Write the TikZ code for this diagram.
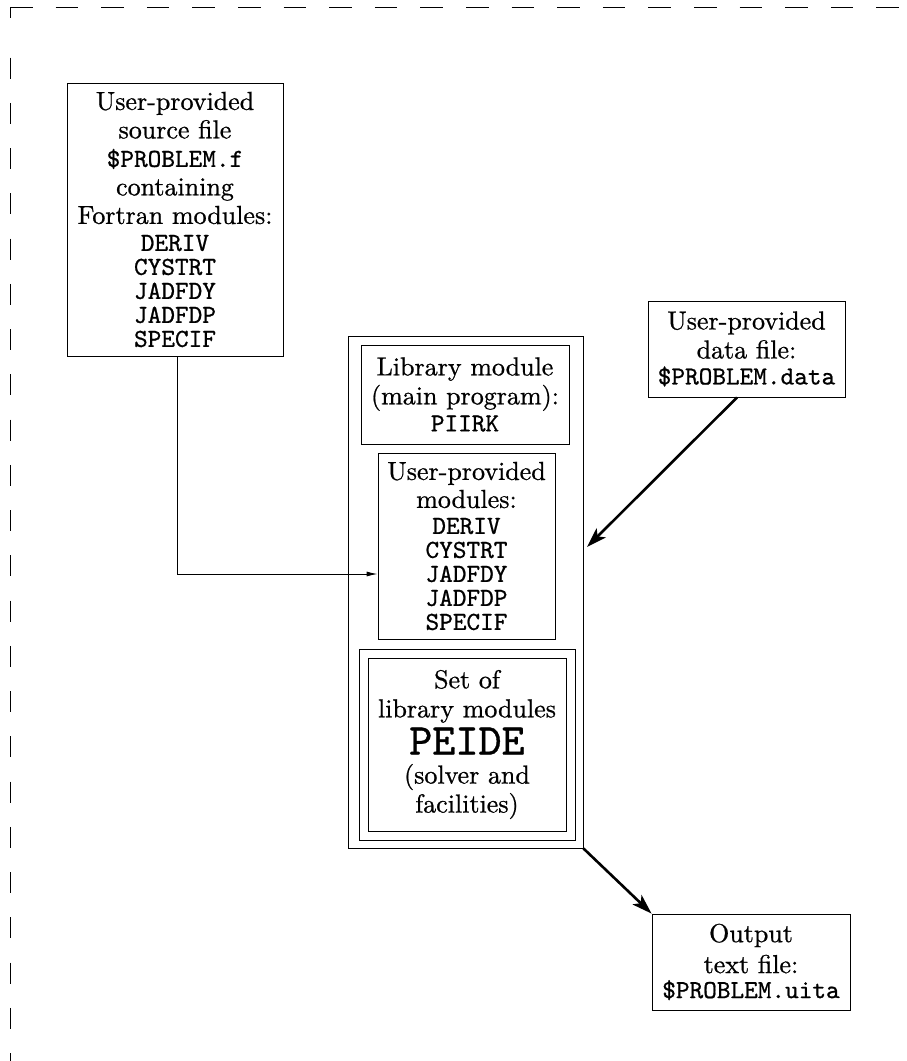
\documentclass[tikz,border=0pt]{standalone}
\usepackage{fontspec}
\setmainfont{lmroman10-regular}[Extension=.otf, UprightFeatures={FakeBold=0.8}]
\setmonofont{lmmono10-regular}[Extension=.otf, UprightFeatures={FakeBold=0.8}]
\usetikzlibrary{arrows.meta}
\begin{document}
\begin{tikzpicture}[x=1pt,y=-1pt,
  box/.style={draw, line width=0.9pt, inner sep=0pt, align=center, font=\fontsize{26}{29}\selectfont},
  thickarrow/.style={line width=2.6pt, -{Stealth[length=20pt,width=13pt,inset=5pt]}},
  thinarrow/.style={line width=0.9pt, -{Latex[length=11pt,width=5pt]}},
  frame/.style={line width=1pt}]
\useasboundingbox (0,0) rectangle (906,1061);
% partial dashed frame
\draw[frame, dash pattern=on 22.5pt off 23.1pt] (10,7) -- (906,7);
\draw[frame] (10,7) -- (10,18);
\draw[frame, dash pattern=on 21pt off 24.25pt] (10,57.6) -- (10,1061);
% boxes
\node[box, font=\fontsize{26}{28.5}\selectfont, minimum width=216, minimum height=273] (src) at (175,219.5)
  {User-provided\\ source file\\ \texttt{\$PROBLEM.f}\\ containing\\ Fortran modules:\\[-1.5pt]
   \texttt{DERIV}\\[-4.5pt] \texttt{CYSTRT}\\[-4.5pt] \texttt{JADFDY}\\[-4.5pt] \texttt{JADFDP}\\[-4.5pt] \texttt{SPECIF}};
\node[box, minimum width=235, minimum height=512] (outer) at (465.5,592) {};
\node[box, minimum width=208, minimum height=99] (lib) at (465,394.5)
  {Library module\\ (main program):\\[-2pt] \texttt{PIIRK}};
\node[box, minimum width=177, minimum height=186] (umod) at (466.5,546)
  {User-provided\\[-1pt] modules:\\[-3pt]
   \texttt{DERIV}\\[-5pt] \texttt{CYSTRT}\\[-5pt] \texttt{JADFDY}\\[-5pt] \texttt{JADFDP}\\[-5pt] \texttt{SPECIF}};
\node[box, minimum width=216, minimum height=191] (peideo) at (467,744.5) {};
\node[box, minimum width=198, minimum height=173] (peide) at (467,744.5)
  {Set of\\ library modules\\[4pt] {\ttfamily\fontsize{44}{44}\selectfont PEIDE}\\[0pt] (solver and\\[0pt] facilities)};
\node[box, minimum width=197, minimum height=96] (data) at (746.5,349)
  {User-provided\\ data file:\\[-3pt] \texttt{\$PROBLEM.data}};
\node[box, minimum width=198, minimum height=96] (out) at (751,962)
  {Output\\[2pt] text file:\\[-4pt] \texttt{\$PROBLEM.uita}};
% connectors
\coordinate (dtip) at (587,547);
\draw[thinarrow] ([xshift=2pt]src.south) |- ([yshift=-28pt]umod.west);
\draw[thickarrow] ([xshift=-9.5pt]data.south) -- (dtip);
\draw[thickarrow] (outer.south east) -- (out.north west);
\end{tikzpicture}
\end{document}
